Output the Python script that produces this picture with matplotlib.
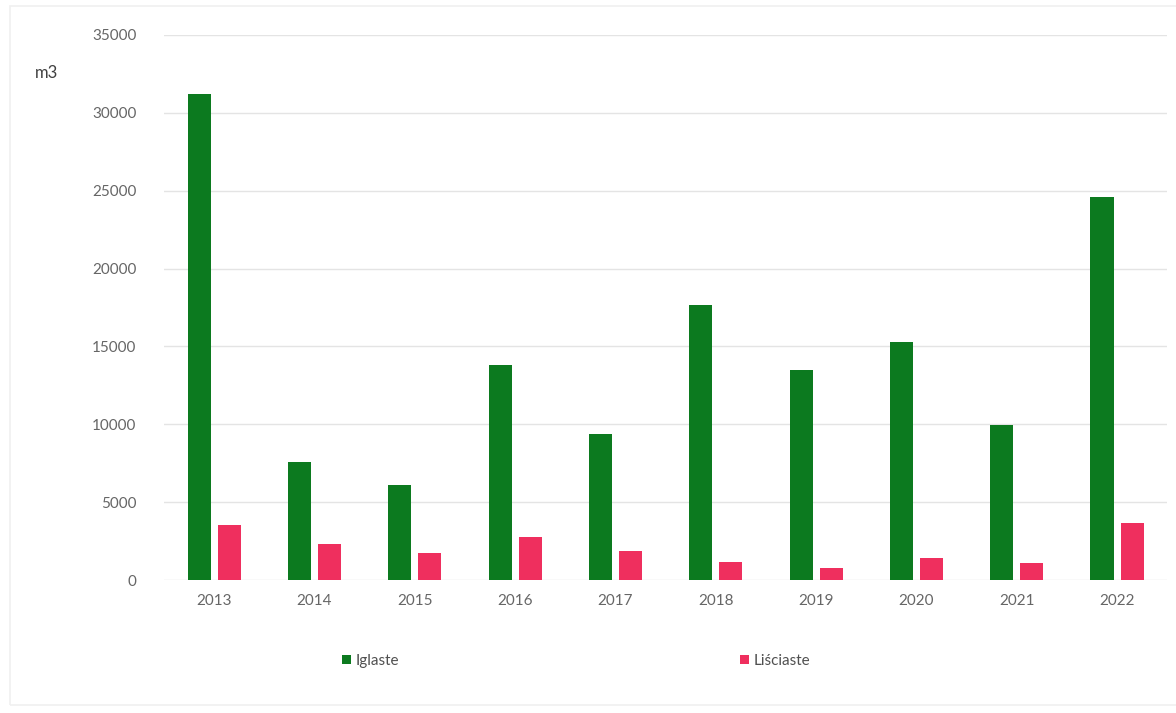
import numpy as np
import matplotlib
matplotlib.use('Agg')
import matplotlib.pyplot as plt
from matplotlib.patches import Rectangle

years = ['2013', '2014', '2015', '2016', '2017', '2018', '2019', '2020', '2021', '2022']
iglaste = [31200, 7590, 6110, 13830, 9400, 17630, 13510, 15310, 9970, 24580]
lisciaste = [3540, 2320, 1740, 2770, 1870, 1160, 770, 1415, 1090, 3670]
y_ticks = [0, 5000, 10000, 15000, 20000, 25000, 30000, 35000]

plt.rcParams['font.family'] = ['Lato', 'DejaVu Sans']

fig = plt.figure(figsize=(11.76, 7.13), dpi=100)
ax = fig.add_axes([0.1395, 0.1865, 0.853, 0.7645])

x = np.arange(len(years))
w = 0.23
ax.bar(x - 0.15, iglaste, width=w, color='#0c7a1f', label='Iglaste', zorder=3)
ax.bar(x + 0.15, lisciaste, width=w, color='#ef2f5e', label='Liściaste', zorder=3)

ax.set_xlim(-0.5, len(years) - 0.5)
ax.set_ylim(0, 35000)
ax.set_yticks(y_ticks)
ax.set_yticklabels([str(v) for v in y_ticks])
ax.set_xticks(x)
ax.set_xticklabels(years)
ax.tick_params(axis='both', length=0, colors='#666666', labelsize=11)
ax.tick_params(axis='y', pad=20)
ax.tick_params(axis='x', pad=10)
ax.grid(axis='y', color='#e4e4e4', linewidth=1, zorder=0)
for s in ax.spines.values():
    s.set_visible(False)

fig.text(35 / 1176, 1 - 73 / 713, 'm3', fontsize=12, color='#404040', va='center')

ax.legend(loc='center', bbox_to_anchor=(576 / 1176, 1 - 661 / 713),
          bbox_transform=fig.transFigure, ncol=2, frameon=False,
          fontsize=11, handlelength=0.6, handleheight=0.6,
          handletextpad=0.3, columnspacing=22.3, labelcolor='#505050')

# faint outer frame
fig.patches.append(Rectangle((10 / 1176, 8 / 713), 1.0, 0.98, transform=fig.transFigure,
                             fill=False, edgecolor='#f0f0f0', linewidth=1.2))

fig.savefig('out.png', dpi=100)
